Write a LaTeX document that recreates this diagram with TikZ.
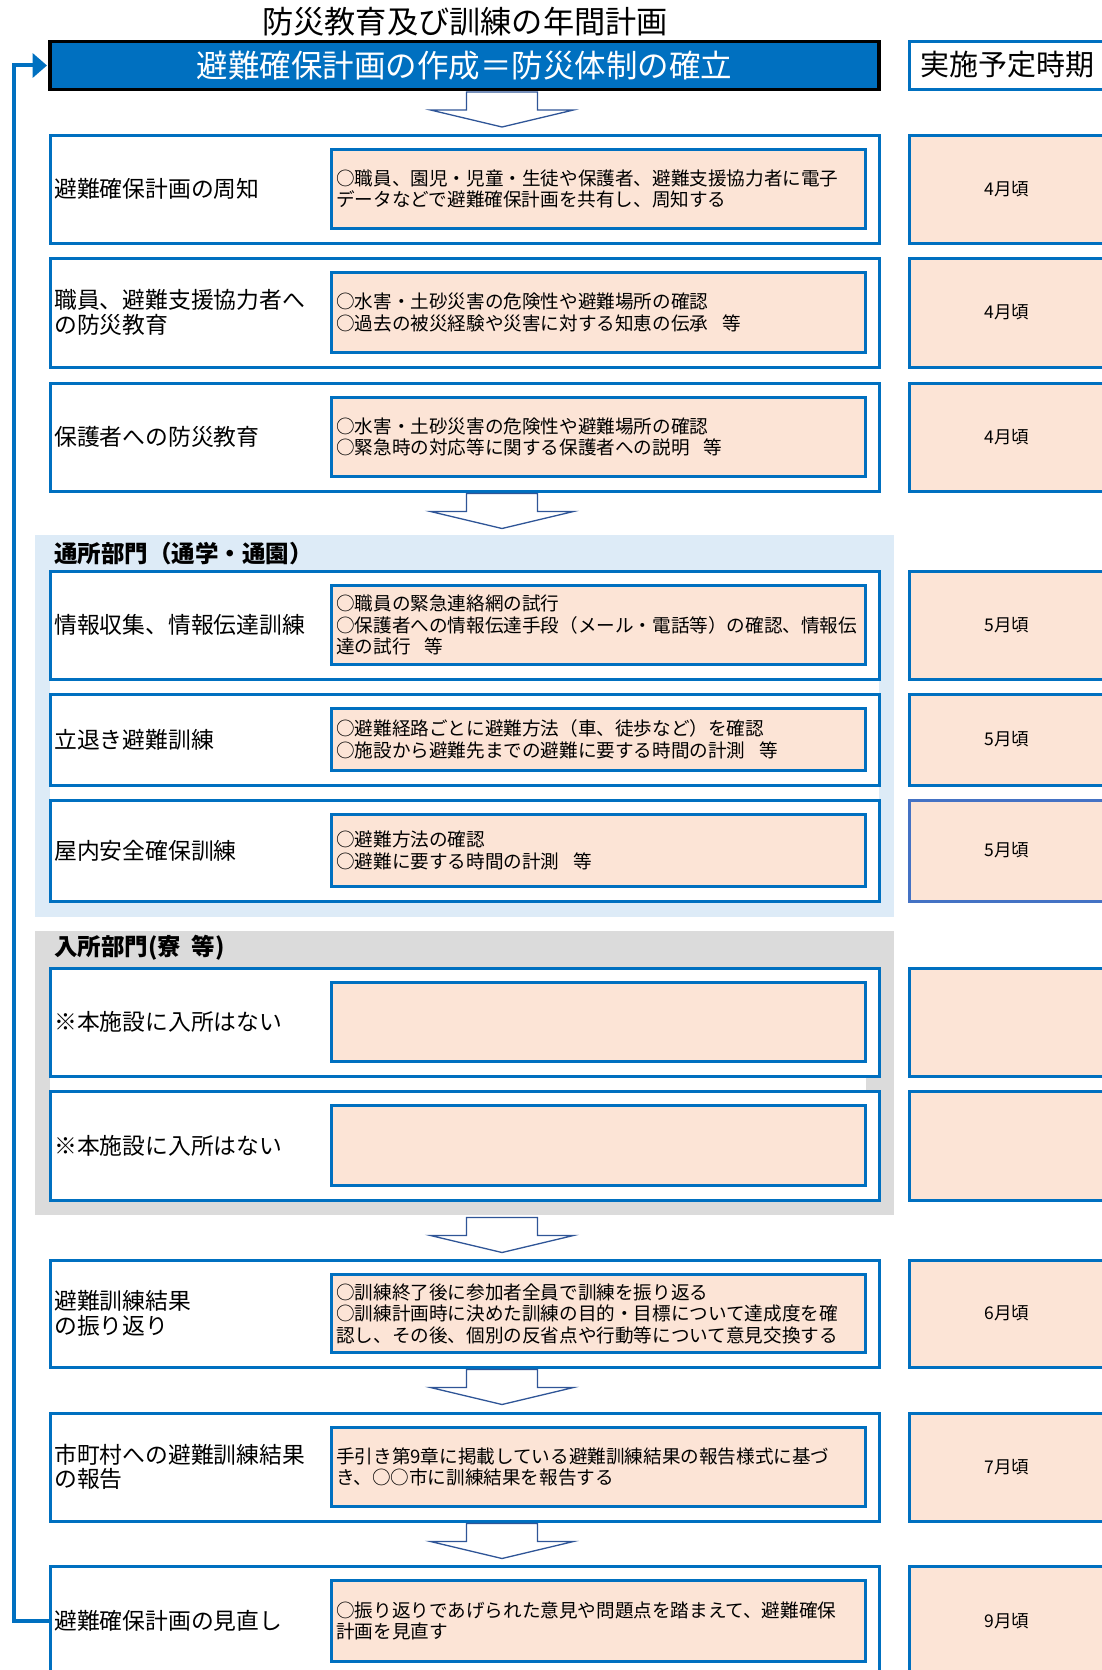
\documentclass[tikz,border=0pt]{standalone}
\usepackage{fontspec}
\setmainfont{Noto Sans CJK JP}
\usetikzlibrary{arrows.meta,calc}
\definecolor{bblue}{HTML}{0070C0}
\definecolor{pinkf}{HTML}{FCE4D6}
\definecolor{lblue}{HTML}{DDEBF7}
\definecolor{lgray}{HTML}{DBDBDB}
\definecolor{arrowc}{HTML}{2F5597}
\definecolor{mblue}{HTML}{4472C4}
\newcommand\tgap{\hspace{0.75em}}
% #1 name, #2 top, #3 bottom, #4 label, #5 inner text, #6 month, #7 extra month-box style
\newcommand\planrow[7]{%
  \node[outerbox, minimum height={#3-#2}, anchor=north west] (#1) at (50,#2) {};
  \node[innerbox, minimum height={#3-#2-29}, anchor=north west] (#1i) at (331.5,#2+14.5) {};
  \node[labeltxt] (#1l) at (54,{(#2+#3)/2}) {#4};
  \node[innertxt] (#1t) at (336,{(#2+#3)/2}) {#5};
  \node[monthbox, minimum height={#3-#2}, anchor=north west, #7] (#1m) at (909.5,#2) {#6};
}
\newcommand\hollowarrow[1]{%
  \draw[harrow] ($(#1.south)+(2,2.5)$) -- ++(71,0) -- ++(0,18) -- ++(36,0)
    -- ++(-71.5,17) -- ++(-71.5,-17) -- ++(36,0) -- cycle;
}
\begin{document}
\begin{tikzpicture}[x=1pt,y=-1pt,
  outerbox/.style={draw=bblue, line width=3pt, fill=white, minimum width=829pt, inner sep=0pt, outer sep=0pt},
  innerbox/.style={draw=bblue, line width=3pt, fill=pinkf, minimum width=533.5pt, inner sep=0pt, outer sep=0pt},
  monthbox/.style={draw=bblue, line width=3pt, fill=pinkf, minimum width=195pt, inner sep=0pt, outer sep=0pt,
    font=\fontsize{17.5}{20}\selectfont},
  labeltxt/.style={font=\fontsize{22.8}{24.5}\selectfont, align=left, inner sep=0pt, anchor=west},
  innertxt/.style={font=\fontsize{18.6}{21.5}\selectfont, align=left, inner sep=0pt, anchor=west},
  sechead/.style={font=\bfseries\fontsize{23.5}{26}\selectfont, inner sep=0pt, anchor=west},
  secbox/.style={inner sep=0pt, outer sep=0pt, minimum width=859pt, anchor=north west},
  harrow/.style={draw=arrowc, line width=1.3pt, fill=white, line join=miter},
  fbline/.style={draw=bblue, line width=4pt, line join=miter, -{Triangle[length=14.4pt,width=24pt]}},
]
\useasboundingbox (0,0) rectangle (1102,1670);
\begin{scope}
\clip (0,0) rectangle (1102,1670);

% title and header
\node[font=\fontsize{31.2}{34}\selectfont, inner sep=0pt] (title) at (465,22) {防災教育及び訓練の年間計画};
\node[draw=black, line width=3.3pt, fill=bblue, text=white, minimum width=829pt, minimum height=48pt,
  anchor=north west, inner sep=0pt, outer sep=0pt, font=\fontsize{31.5}{34}\selectfont]
  (hdr) at (50,41.5) {避難確保計画の作成＝防災体制の確立};
\node[draw=bblue, line width=3pt, fill=white, minimum width=195pt, minimum height=48pt,
  anchor=north west, inner sep=0pt, outer sep=0pt] (when) at (909.5,41.5) {};
\node[font=\fontsize{29}{32}\selectfont, anchor=west, inner sep=0pt] (whent) at (920,65) {実施予定時期};

% sections
\node[secbox, fill=lblue, minimum height=382pt] (sec1) at (35,535) {};
\node[secbox, fill=lgray, minimum height=284pt] (sec2) at (35,931) {};
\node[sechead] (sec1h) at (54,554) {通所部門（通学・通園）};
\node[sechead] (sec2h) at (54,948) {入所部門(寮\hspace{0.45em}等)};
\fill[white] (50,679) rectangle (879,694);
\fill[white] (50,785) rectangle (879,800);
\fill[white] (50,1076) rectangle (866,1091);

% rows
\planrow{r1}{135}{243}{避難確保計画の周知}{○職員、園児・児童・生徒や保護者、避難支援協力者に電子\\データなどで避難確保計画を共有し、周知する}{4月頃}{}
\planrow{r2}{258}{367}{職員、避難支援協力者へ\\の防災教育}{○水害・土砂災害の危険性や避難場所の確認\\○過去の被災経験や災害に対する知恵の伝承\tgap 等}{4月頃}{}
\planrow{r3}{383}{491}{保護者への防災教育}{○水害・土砂災害の危険性や避難場所の確認\\○緊急時の対応等に関する保護者への説明\tgap 等}{4月頃}{}
\planrow{r4}{571}{679}{情報収集、情報伝達訓練}{○職員の緊急連絡網の試行\\○保護者への情報伝達手段（メール・電話等）の確認、情報伝\\達の試行\tgap 等}{5月頃}{}
\planrow{r5}{694}{785}{立退き避難訓練}{○避難経路ごとに避難方法（車、徒歩など）を確認\\○施設から避難先までの避難に要する時間の計測\tgap 等}{5月頃}{}
\planrow{r6}{800}{901}{屋内安全確保訓練}{○避難方法の確認\\○避難に要する時間の計測\tgap 等}{5月頃}{draw=mblue}
\planrow{r7}{968}{1076}{※本施設に入所はない}{}{}{}
\planrow{r8}{1091}{1200}{※本施設に入所はない}{}{}{}
\planrow{r9}{1260}{1367}{避難訓練結果\\の振り返り}{○訓練終了後に参加者全員で訓練を振り返る\\○訓練計画時に決めた訓練の目的・目標について達成度を確\\認し、その後、個別の反省点や行動等について意見交換する}{6月頃}{}
\planrow{r10}{1413}{1521}{市町村への避難訓練結果\\の報告}{手引き第9章に掲載している避難訓練結果の報告様式に基づ\\き、○○市に訓練結果を報告する}{7月頃}{}
\planrow{r11}{1566}{1676}{避難確保計画の見直し}{○振り返りであげられた意見や問題点を踏まえて、避難確保\\計画を見直す}{9月頃}{}

% hollow arrows
\hollowarrow{hdr}
\hollowarrow{r3}
\hollowarrow{sec2}
\hollowarrow{r9}
\hollowarrow{r10}

% feedback loop
\draw[fbline] (r11.west) -- ++(-36.3,0) |- ($(hdr.west)+(-3,0)$);
\end{scope}
\end{tikzpicture}
\end{document}
